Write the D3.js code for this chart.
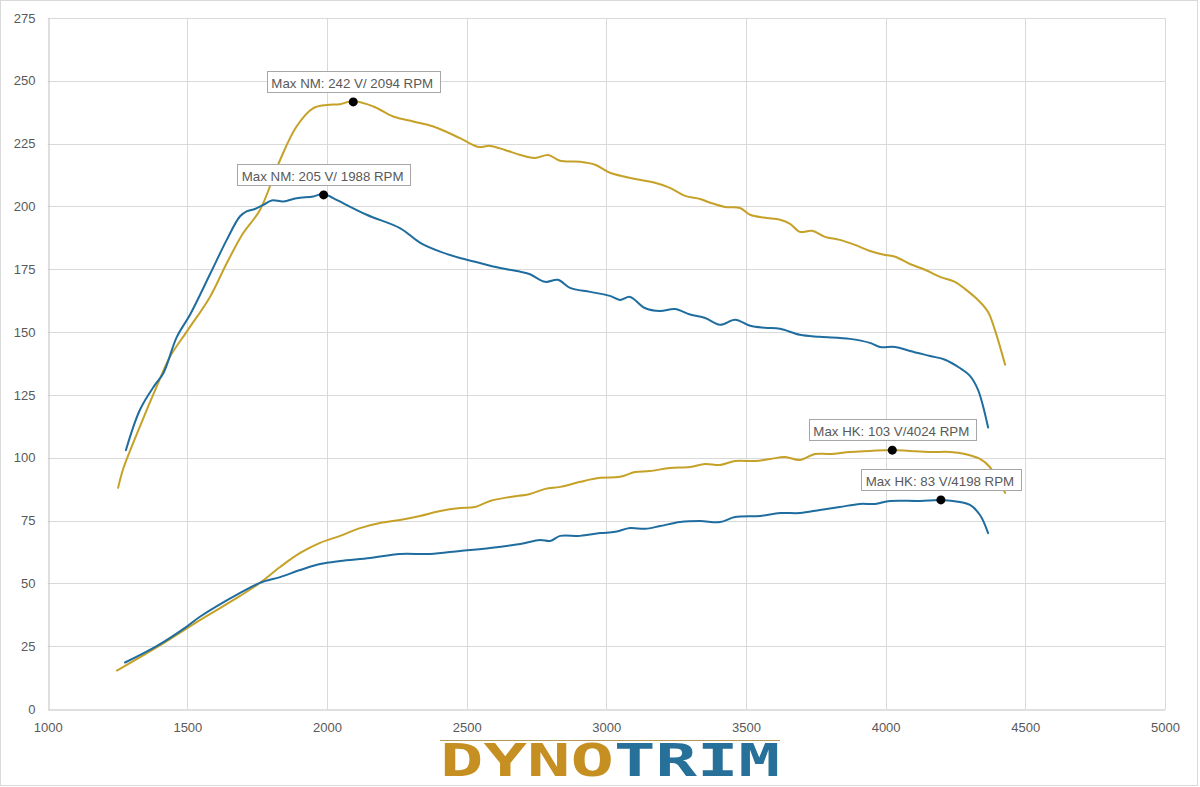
<!DOCTYPE html>
<html>
<head>
<meta charset="utf-8">
<script src="https://cdn.jsdelivr.net/npm/d3@7"></script>
<style>
  html, body { margin: 0; padding: 0; background: #fff; }
  svg { display: block; font-family: "Liberation Sans", Arial, sans-serif; }
</style>
</head>
<body>
<svg id="chart" width="1200" height="787"></svg>
<script>
// ---------- DATA ----------
const xTicks = [1000, 1500, 2000, 2500, 3000, 3500, 4000, 4500, 5000];
const yTicks = [0, 25, 50, 75, 100, 125, 150, 175, 200, 225, 250, 275];

// Blue torque (NM)
const blueNmRpm = [1280, 1330, 1384, 1414, 1462, 1510, 1581, 1641, 1688, 1712, 1742, 1772, 1802, 1844, 1891, 1951, 1988, 2022, 2142, 2261, 2334, 2405, 2476, 2530, 2620, 2692, 2727, 2781, 2827, 2870, 2942, 3013, 3049, 3085, 3138, 3192, 3246, 3300, 3354, 3407, 3461, 3515, 3568, 3622, 3693, 3765, 3872, 3944, 3980, 4034, 4087, 4159, 4213, 4266, 4302, 4331, 4367];
const blueNmVal = [103, 119, 129, 133.6, 148, 157, 173, 186.7, 196, 198, 199, 200.6, 202.4, 202, 203.3, 204, 205, 203.3, 196.7, 191.4, 185.5, 182, 179.5, 178, 175.5, 174, 173, 170, 170.8, 167.6, 166, 164.4, 162.8, 164, 159.6, 158.4, 159.2, 157, 155.6, 152.9, 154.9, 152.5, 151.7, 151.3, 148.9, 148.1, 147.3, 145.7, 144.1, 144.1, 142.5, 140.5, 139, 135.7, 132.6, 127, 112];

// Gold torque (NM)
const goldNmRpm = [1252, 1271, 1330, 1390, 1438, 1498, 1581, 1641, 1700, 1760, 1832, 1891, 1951, 1999, 2047, 2094, 2166, 2237, 2309, 2381, 2476, 2541, 2584, 2637, 2692, 2745, 2792, 2834, 2906, 2960, 3013, 3067, 3120, 3174, 3228, 3282, 3336, 3372, 3425, 3479, 3515, 3568, 3622, 3658, 3693, 3737, 3783, 3836, 3890, 3944, 3998, 4034, 4087, 4141, 4195, 4248, 4284, 4338, 4367, 4391, 4428];
const goldNmVal = [88, 95.8, 112.4, 128.3, 140.2, 150.2, 164, 177.4, 189.4, 198.6, 218.5, 231.8, 239.1, 240.4, 240.7, 242, 239.8, 235.8, 233.8, 231.8, 227.2, 223.7, 224.1, 222.5, 220.5, 219.3, 220.5, 218.2, 217.8, 216.6, 213.4, 211.8, 210.6, 209.4, 207.4, 204.2, 203, 201.5, 199.8, 199.4, 196.7, 195.5, 194.7, 193.1, 189.9, 190.3, 187.9, 186.7, 184.7, 182.3, 180.7, 180, 177.1, 174.8, 172, 170, 167.2, 162, 158, 151, 137];

// Blue power (HK)
const blueHkRpm = [1277, 1390, 1498, 1545, 1689, 1760, 1832, 1904, 1975, 2047, 2154, 2261, 2369, 2476, 2584, 2692, 2763, 2799, 2835, 2906, 2978, 3032, 3085, 3139, 3192, 3264, 3336, 3407, 3461, 3551, 3622, 3693, 3765, 3836, 3908, 3962, 4016, 4123, 4198, 4266, 4302, 4338, 4367];
const blueHkVal = [18.5, 25, 32.8, 36.7, 46.2, 50.2, 52.5, 55.3, 57.7, 58.9, 60.1, 61.7, 61.7, 62.9, 64.1, 65.7, 67.3, 66.9, 68.9, 68.9, 70, 70.5, 72, 71.7, 72.8, 74.4, 74.8, 74.4, 76.4, 76.8, 78, 78, 79.2, 80.4, 81.6, 81.6, 82.8, 82.8, 83.2, 82.4, 81.2, 77.2, 70];

// Gold power (HK)
const goldHkRpm = [1248, 1390, 1545, 1689, 1760, 1832, 1904, 1975, 2047, 2118, 2190, 2261, 2333, 2405, 2476, 2530, 2584, 2656, 2727, 2781, 2835, 2906, 2978, 3049, 3103, 3156, 3228, 3300, 3354, 3407, 3461, 3533, 3587, 3640, 3693, 3747, 3801, 3872, 3944, 4024, 4087, 4159, 4231, 4284, 4338, 4373, 4428];
const goldHkVal = [15.3, 24.5, 35.4, 45, 50.2, 56.5, 62.1, 66.1, 68.9, 72, 74, 75.2, 76.8, 78.8, 80, 80.4, 82.8, 84.4, 85.6, 87.6, 88.4, 90.4, 92, 92.4, 94.3, 94.7, 95.9, 96.3, 97.5, 97.1, 98.7, 98.7, 99.5, 100.3, 99.1, 101.5, 101.5, 102.3, 102.7, 103.1, 102.7, 102.3, 102.3, 101.5, 99.5, 96.3, 86];

// Max annotations
const annoLabels = ["Max NM: 242 V/ 2094 RPM", "Max NM: 205 V/ 1988 RPM", "Max HK: 103 V/4024 RPM", "Max HK: 83 V/4198 RPM"];
const annoRpm = [2094, 1988, 4024, 4198];
const annoVal = [241.6, 204.6, 103, 83.2];

// ---------- STYLE ----------
const GOLD = "#c6a128";
const BLUE = "#1f6d9f";
const FONT = '"Liberation Sans", Arial, sans-serif';

const svg = d3.select("#chart");
const x = d3.scaleLinear().domain([1000, 5000]).range([47.7, 1164.9]);
const y = d3.scaleLinear().domain([0, 275]).range([709, 18]);

// outer border
svg.append("rect").attr("x", 0.5).attr("y", 0.5).attr("width", 1197).attr("height", 785)
  .attr("fill", "#fff").attr("stroke", "#d9d9d9");

// gridlines
const grid = svg.append("g");
grid.selectAll("line.h").data(yTicks.filter(d => d > 0)).join("line")
  .attr("x1", x(1000)).attr("x2", x(5000))
  .attr("y1", d => Math.round(y(d)) + 0.5).attr("y2", d => Math.round(y(d)) + 0.5)
  .attr("stroke", "#d9d9d9").attr("stroke-width", 1);
grid.selectAll("line.v").data(xTicks.filter(d => d > 1000)).join("line")
  .attr("y1", y(0)).attr("y2", y(275))
  .attr("x1", d => Math.round(x(d)) + 0.5).attr("x2", d => Math.round(x(d)) + 0.5)
  .attr("stroke", "#d9d9d9").attr("stroke-width", 1);

// axes
const yAxis = d3.axisLeft(y).tickValues(yTicks).tickSize(0).tickPadding(13).tickFormat(d3.format("d"));
const gy = svg.append("g").attr("transform", `translate(${Math.round(x(1000)) + 0.5},0)`).call(yAxis);
gy.select(".domain").attr("stroke", "#bfbfbf");
gy.selectAll("text").attr("font-size", 13).attr("fill", "#595959").style("font-family", FONT);

const xAxis = d3.axisBottom(x).tickValues(xTicks).tickSize(0).tickPadding(13).tickFormat(d3.format("d"));
const gx = svg.append("g").attr("transform", `translate(0,${Math.round(y(0)) + 0.5})`).call(xAxis);
gx.select(".domain").attr("stroke", "#bfbfbf");
gx.selectAll("text").attr("font-size", 13).attr("fill", "#595959").style("font-family", FONT);

// lines
const line = d3.line().x(d => x(d[0])).y(d => y(d[1])).curve(d3.curveCatmullRom.alpha(0.5));
const series = [
  [goldNmRpm, goldNmVal, GOLD],
  [blueNmRpm, blueNmVal, BLUE],
  [goldHkRpm, goldHkVal, GOLD],
  [blueHkRpm, blueHkVal, BLUE]
];
series.forEach(([rs, vs, c]) => {
  svg.append("path").datum(rs.map((r, i) => [r, vs[i]]))
    .attr("d", line).attr("fill", "none").attr("stroke", c)
    .attr("stroke-width", 2).attr("stroke-linejoin", "round").attr("stroke-linecap", "round");
});

// annotations
annoLabels.forEach((lab, i) => {
  const px = x(annoRpm[i]), py = y(annoVal[i]);
  const g = svg.append("g");
  const t = g.append("text").text(lab).attr("font-size", 13.3).attr("fill", "#595959")
    .style("font-family", FONT)
    .attr("text-anchor", "middle").attr("x", px - 1).attr("y", py - 14);
  const bb = t.node().getBBox();
  g.insert("rect", "text")
    .attr("x", Math.round(bb.x - 4.5) + 0.5).attr("y", Math.round(py - 31) + 0.5)
    .attr("width", Math.round(bb.width + 11)).attr("height", 21)
    .attr("fill", "#fff").attr("stroke", "#a6a6a6");
  svg.append("circle").attr("cx", px).attr("cy", py).attr("r", 4.5).attr("fill", "#000");
});

// logo
const LOGO_FONT = '"DejaVu Sans Mono", monospace';
const logo = svg.append("g");
logo.append("line").attr("x1", 440).attr("x2", 780).attr("y1", 740.5).attr("y2", 740.5)
  .attr("stroke", "#b59a55").attr("stroke-width", 1.2);
logo.append("text").text("DYNO").attr("x", 440).attr("y", 776)
  .style("font-family", LOGO_FONT).style("font-weight", "bold")
  .attr("font-size", 45).attr("fill", "#c68f22")
  .attr("textLength", 174).attr("lengthAdjust", "spacingAndGlyphs");
logo.append("text").text("TRIM").attr("x", 614).attr("y", 776)
  .style("font-family", LOGO_FONT).style("font-weight", "bold")
  .attr("font-size", 45).attr("fill", "#26709a")
  .attr("textLength", 166).attr("lengthAdjust", "spacingAndGlyphs");
</script>
</body>
</html>
